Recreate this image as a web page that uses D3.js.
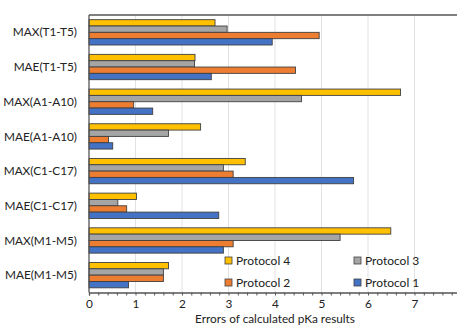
<!DOCTYPE html>
<html><head><meta charset="utf-8">
<script src="https://cdn.jsdelivr.net/npm/d3@7"></script>
<style>body{margin:0;background:#fff;} text{font-family:Lato,"Noto Sans",sans-serif;}</style>
</head><body><svg id="c" width="457" height="325"></svg>
<script>
const categories = ["MAX(T1-T5)","MAE(T1-T5)","MAX(A1-A10)","MAE(A1-A10)","MAX(C1-C17)","MAE(C1-C17)","MAX(M1-M5)","MAE(M1-M5)"];
const seriesNames = ["Protocol 4","Protocol 3","Protocol 2","Protocol 1"];
const protocol4 = [2.71, 2.28, 6.70, 2.40, 3.36, 1.02, 6.49, 1.71];
const protocol3 = [2.97, 2.27, 4.57, 1.71, 2.89, 0.62, 5.40, 1.60];
const protocol2 = [4.95, 4.44, 0.96, 0.42, 3.10, 0.81, 3.10, 1.60];
const protocol1 = [3.94, 2.63, 1.37, 0.51, 5.69, 2.79, 2.89, 0.85];
const colors = ["#FFC000","#A5A5A5","#ED7D31","#4472C4"];
const xTicks = [0,1,2,3,4,5,6,7];
const xTitle = "Errors of calculated pKa results";

const seriesValues = [protocol4, protocol3, protocol2, protocol1];
const svg = d3.select("#c");
const L = 89, T = 15, B = 292.5;
const x = d3.scaleLinear().domain([0, 8]).range([L, L + 8*46.5]);
const y = d3.scaleBand().domain(categories).range([T, B]).paddingInner(0.27).paddingOuter(0.135);
const y1 = d3.scaleBand().domain(seriesNames).range([0, y.bandwidth()]);

// gridlines
svg.append("g").selectAll("line").data(xTicks.slice(1)).join("line")
  .attr("x1", d => x(d)).attr("x2", d => x(d)).attr("y1", T).attr("y2", B)
  .attr("stroke", "#e2e2e2").attr("stroke-width", 1);

// bars
const g = svg.append("g");
categories.forEach((c, i) => {
  seriesNames.forEach((s, j) => {
    g.append("rect")
      .attr("x", x(0)).attr("y", y(c) + y1(s))
      .attr("width", x(seriesValues[j][i]) - x(0)).attr("height", y1.bandwidth())
      .attr("fill", colors[j]).attr("stroke", "#404040").attr("stroke-width", 0.9);
  });
});

// frame
svg.append("line").attr("x1", L).attr("x2", 457).attr("y1", T).attr("y2", T).attr("stroke", "#555").attr("stroke-width", 1.3);
svg.append("line").attr("x1", L).attr("x2", L).attr("y1", T).attr("y2", B).attr("stroke", "#555").attr("stroke-width", 1.3);

// x axis
const xa = svg.append("g").attr("transform", `translate(0,${B})`)
  .call(d3.axisBottom(x).tickValues(d3.range(0, 7.95, 0.2)).tickSize(3).tickFormat(""));
xa.select(".domain").attr("stroke", "#555").attr("stroke-width", 1.3);
xa.selectAll(".tick line").attr("stroke", "#555");
const xl = svg.append("g").attr("transform", `translate(0,${B})`)
  .call(d3.axisBottom(x).tickValues(xTicks).tickSize(0).tickPadding(7.5).tickFormat(d3.format("d")));
xl.select(".domain").remove();
xl.selectAll("text").attr("font-size", 11.8).attr("fill", "#222").style("font-family", "Lato,'Noto Sans',sans-serif");

svg.append("text").attr("x", 275).attr("y", 322.5).attr("text-anchor", "middle")
  .attr("font-size", 11.8).attr("fill", "#222").text(xTitle);

// y labels
svg.append("g").selectAll("text").data(categories).join("text")
  .attr("x", 77).attr("y", d => y(d) + y.bandwidth()/2).attr("dy", "0.35em")
  .attr("text-anchor", "end").attr("font-size", 11.8).attr("fill", "#222").text(d => d);

// legend
const legPos = [[225, 260.5], [354, 260.5], [225, 282.5], [354, 282.5]];
seriesNames.forEach((s, j) => {
  const [lx, ly] = legPos[j];
  svg.append("rect").attr("x", lx).attr("y", ly - 3.5).attr("width", 7).attr("height", 7)
    .attr("fill", colors[j]).attr("stroke", "#404040").attr("stroke-width", 0.8);
  svg.append("text").attr("x", lx + 11).attr("y", ly).attr("dy", "0.35em")
    .attr("font-size", 12).attr("fill", "#222").text(s);
});
</script></body></html>
